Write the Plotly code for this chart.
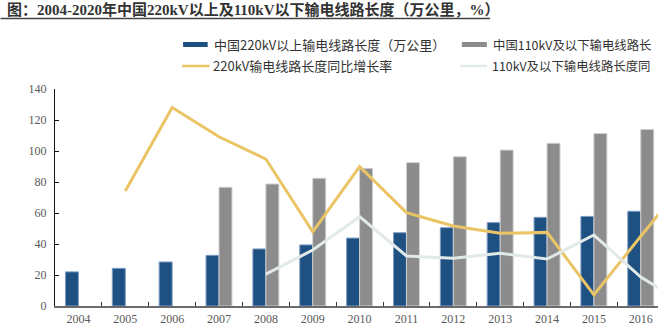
import plotly.graph_objects as go

years = ["2004", "2005", "2006", "2007", "2008", "2009", "2010", "2011", "2012",
         "2013", "2014", "2015", "2016", "2017"]
len_220 = [22, 24.3, 28.4, 32.7, 36.8, 39.4, 43.8, 47.3, 50.5, 53.8, 57.2, 57.8, 61.1, None]
len_110 = [None, None, None, 76.6, 78.7, 82.4, 88.8, 92.5, 96.3, 100.6, 105, 111.3, 113.9, None]
growth_220 = [None, 74.2, 128, 109.2, 94.8, 47.9, 89.9, 60.2, 51.6, 46.9, 47.5, 7.2, 45, 82]
growth_110 = [None, None, None, None, 20.6, 36.1, 57.6, 32.3, 30.8, 34, 30.3, 45.8, 18.7, 0.5]
y_ticks = [0, 20, 40, 60, 80, 100, 120, 140]

title = "图：2004-2020年中国220kV以上及110kV以下输电线路长度（万公里，%）"
names = ["中国220kV以上输电线路长度（万公里）", "中国110kV及以下输电线路长度（万公里）",
         "220kV输电线路长度同比增长率", "110kV及以下输电线路长度同比增长率"]
# legend labels as visible in the (right-cropped) reference
legend_labels = ["中国220kV以上输电线路长度（万公里）", "中国110kV及以下输电线路长",
                 "220kV输电线路长度同比增长率", "110kV及以下输电线路长度同"]

W, H = 658, 327
L, T, B = 54.5, 89, 306
step = 46.9
R = W

BLUE = "#1F5082"
GRAY = "#8C8C8C"
YELLOW = "#EAC465"
LIGHT = "#E1EAE8"

def px(x):
    return (x - L) / (R - L)

def py(y):
    return (B - y) / (B - T)

fig = go.Figure()
fig.add_trace(go.Bar(x=years, y=len_220, name=names[0], marker=dict(color=BLUE, line=dict(color="#7C9CC2", width=1))))
fig.add_trace(go.Bar(x=years, y=len_110, name=names[1], marker=dict(color=GRAY, line=dict(color="#D0D0D0", width=1))))
fig.add_trace(go.Scatter(x=years, y=growth_220, name=names[2], mode="lines", line=dict(color=YELLOW, width=3)))
fig.add_trace(go.Scatter(x=years, y=growth_110, name=names[3], mode="lines", line=dict(color=LIGHT, width=3)))

xr_end = -0.5 + (R - L) / step

fig.update_layout(
    width=W, height=H,
    margin=dict(l=L, r=0, t=T, b=H - B, pad=0),
    paper_bgcolor="white", plot_bgcolor="white",
    showlegend=False,
    barmode="group", bargap=0.446, bargroupgap=0,
    xaxis=dict(type="category", range=[-0.5, xr_end], showgrid=False,
               showline=True, linecolor="#6b6b6b", linewidth=2,
               ticks="inside", ticklen=4, tickcolor="#333", tickson="boundaries",
               tickfont=dict(family="Liberation Serif, Times New Roman, serif", size=12, color="#595959"),
               ticklabelstandoff=1, automargin=False, fixedrange=True),
    yaxis=dict(range=[0, 140], tickvals=y_ticks, showgrid=False, zeroline=False,
               showline=True, linecolor="#111", linewidth=1,
               ticks="inside", ticklen=4, tickcolor="#111",
               tickfont=dict(family="Liberation Serif, Times New Roman, serif", size=12, color="#595959"),
               ticklabelstandoff=5, automargin=False, fixedrange=True),
)

annos = []
shapes = []
# title
annos.append(dict(xref="paper", yref="paper", x=px(4), y=py(10), xanchor="left", yanchor="middle",
                  text="<b>" + title + "</b>", showarrow=False,
                  font=dict(family="Liberation Serif, Noto Sans CJK SC, serif", size=15, color="#333")))
shapes.append(dict(type="line", xref="paper", yref="paper", x0=px(0), x1=px(490), y0=py(18.5), y1=py(18.5),
                   line=dict(color="#444", width=1.5)))

# legend
leg = [
    (182.7, 207.3, 44.5, "rect", BLUE, 211.5, legend_labels[0], 13),
    (461.7, 486.7, 44.5, "rect", GRAY, 491.0, legend_labels[1], 12.4),
    (181.7, 209.3, 66, "line", YELLOW, 210.5, legend_labels[2], 13),
    (460.0, 486.7, 66, "line", LIGHT, 490.0, legend_labels[3], 12.4),
]
for x0, x1, yc, kind, col, tx, txt, fs in leg:
    if kind == "rect":
        shapes.append(dict(type="rect", xref="paper", yref="paper", x0=px(x0), x1=px(x1),
                           y0=py(yc + 2.5), y1=py(yc - 2.5), fillcolor=col, line=dict(width=0)))
    else:
        shapes.append(dict(type="line", xref="paper", yref="paper", x0=px(x0), x1=px(x1),
                           y0=py(yc), y1=py(yc), line=dict(color=col, width=2.5)))
    annos.append(dict(xref="paper", yref="paper", x=px(tx), y=py(yc), xanchor="left", yanchor="middle",
                      text=txt, showarrow=False,
                      font=dict(family="Noto Sans CJK SC, sans-serif", size=fs, color="#333")))

fig.update_layout(annotations=annos, shapes=shapes)
fig.write_html("out.html", config={"displayModeBar": False})
